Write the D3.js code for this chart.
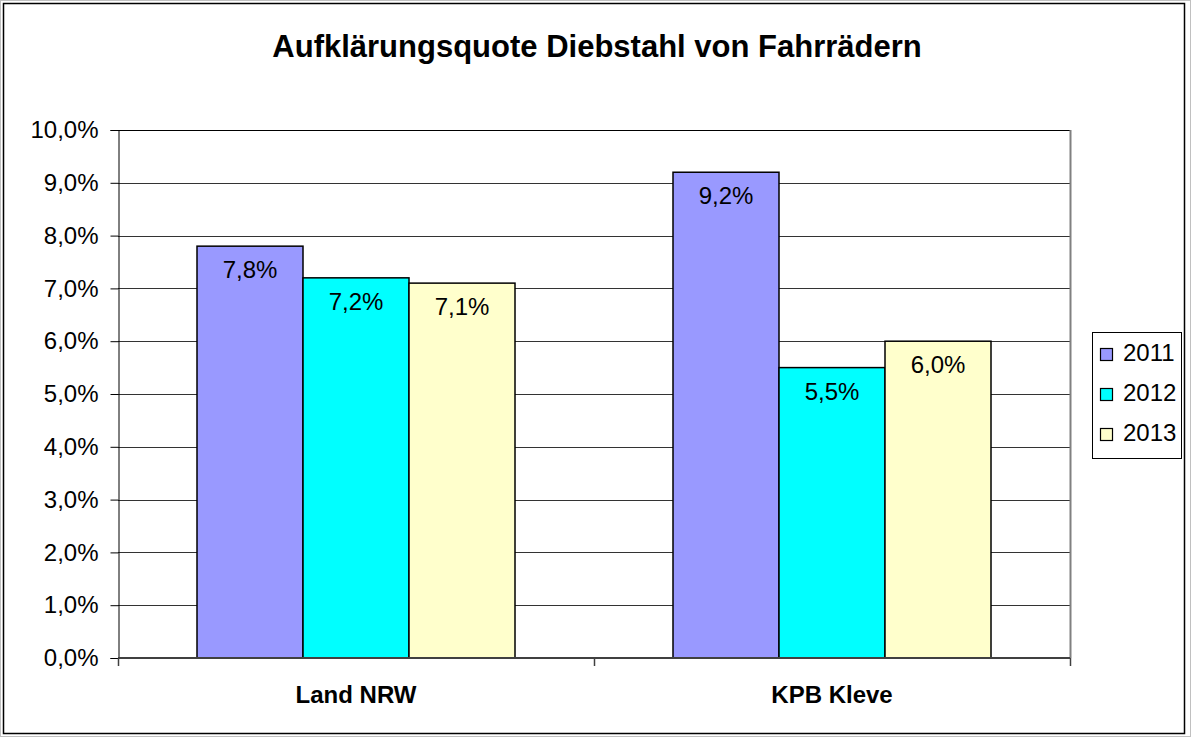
<!DOCTYPE html>
<html>
<head>
<meta charset="utf-8">
<script src="https://cdn.jsdelivr.net/npm/d3@7"></script>
<style>
	body { margin: 0; background: #fff; }
	text { font-family: "Liberation Sans", Arial, sans-serif; fill: #000; }
</style>
</head>
<body>
<script>
var w = 1191, h = 737;

var categories = ["Land NRW", "KPB Kleve"];
var years = ["2011", "2012", "2013"];
var values = [
	[7.8, 7.2, 7.1], // Land NRW
	[9.2, 5.5, 6.0]  // KPB Kleve
];
var yTicks = [0, 1, 2, 3, 4, 5, 6, 7, 8, 9, 10];
var colors = ["#9999ff", "#00ffff", "#ffffcc"];

var fmt = function(v){ return v.toFixed(1).replace(".", ",") + "%"; };

var svg = d3.select("body").append("svg")
	.attr("width", w)
	.attr("height", h);

// outer frame
svg.append("rect")
	.attr("x", 0.5).attr("y", 0.5)
	.attr("width", w - 1).attr("height", h - 1)
	.attr("fill", "none").attr("stroke", "#c0c0c0");
svg.append("rect")
	.attr("x", 3.5).attr("y", 3.5)
	.attr("width", 1181).attr("height", 730)
	.attr("fill", "#fff").attr("stroke", "#000").attr("stroke-width", 1.5);

// title
svg.append("text")
	.attr("x", 597).attr("y", 57)
	.attr("text-anchor", "middle")
	.style("font-size", "31px")
	.style("font-weight", "bold")
	.text("Aufklärungsquote Diebstahl von Fahrrädern");

var pLeft = 118, pRight = 1070, pTop = 130, pBottom = 658;

var y = d3.scaleLinear().domain([0, 10]).range([pBottom, pTop]);
var x0 = d3.scaleBand().domain(categories).range([pLeft, pRight]);
var x1 = d3.scaleBand().domain(years).range([0, 318]);
var groupOffset = (x0.bandwidth() - 318) / 2;

// gridlines
svg.append("g")
	.selectAll("line")
	.data(yTicks.slice(1))
	.enter()
	.append("line")
	.attr("x1", pLeft).attr("x2", pRight)
	.attr("y1", function(d){ return Math.round(y(d)) + 0.5; })
	.attr("y2", function(d){ return Math.round(y(d)) + 0.5; })
	.attr("stroke", function(d){ return d == 10 ? "#000" : "#333"; })
	.attr("stroke-width", 1);

// right border of plot area
svg.append("line")
	.attr("x1", pRight + 0.5).attr("x2", pRight + 0.5)
	.attr("y1", pTop).attr("y2", pBottom)
	.attr("stroke", "#808080").attr("stroke-width", 2);

// y axis
var yAxis = d3.axisLeft(y)
	.tickValues(yTicks)
	.tickSize(8)
	.tickPadding(12)
	.tickFormat(fmt);
var gy = svg.append("g")
	.attr("transform", "translate(" + (pLeft + 0.5) + ",0)")
	.call(yAxis);
gy.select(".domain").attr("stroke", "#000");
gy.selectAll(".tick line").attr("stroke", "#000");
gy.selectAll(".tick text")
	.style("font-size", "24px")
	.style("font-family", "'Liberation Sans', Arial, sans-serif")
	.attr("fill", "#000");

// bars
var groups = svg.append("g")
	.selectAll("g")
	.data(values)
	.enter()
	.append("g")
	.attr("transform", function(d, i){
		return "translate(" + (x0(categories[i]) + groupOffset) + ",0)";
	});

groups.selectAll("rect")
	.data(function(d){ return d; })
	.enter()
	.append("rect")
	.attr("x", function(d, i){ return x1(years[i]); })
	.attr("y", function(d){ return y(d); })
	.attr("width", x1.bandwidth())
	.attr("height", function(d){ return pBottom - y(d); })
	.attr("fill", function(d, i){ return colors[i]; })
	.attr("stroke", "#000")
	.attr("stroke-width", 1.5);

groups.selectAll("text")
	.data(function(d){ return d; })
	.enter()
	.append("text")
	.attr("x", function(d, i){ return x1(years[i]) + x1.bandwidth() / 2; })
	.attr("y", function(d){ return y(d) + 32; })
	.attr("text-anchor", "middle")
	.style("font-size", "24px")
	.text(fmt);

// x axis
var gx = svg.append("g")
	.attr("transform", "translate(0," + pBottom + ")");
gx.append("line")
	.attr("x1", pLeft).attr("x2", pRight)
	.attr("stroke", "#404040").attr("stroke-width", 2);
gx.selectAll("line.tick")
	.data([pLeft, x0(categories[1]), pRight])
	.enter()
	.append("line")
	.attr("class", "tick")
	.attr("x1", function(d){ return d + 0.5; })
	.attr("x2", function(d){ return d + 0.5; })
	.attr("y1", 0).attr("y2", 8)
	.attr("stroke", "#404040").attr("stroke-width", 1.5);
gx.selectAll("text")
	.data(categories)
	.enter()
	.append("text")
	.attr("x", function(d){ return x0(d) + x0.bandwidth() / 2; })
	.attr("y", 45)
	.attr("text-anchor", "middle")
	.style("font-size", "24px")
	.style("font-weight", "bold")
	.text(function(d){ return d; });

// legend
var legend = svg.append("g");
legend.append("rect")
	.attr("x", 1092.5).attr("y", 332.5)
	.attr("width", 89).attr("height", 126)
	.attr("fill", "#fff").attr("stroke", "#000").attr("stroke-width", 1);

var items = legend.selectAll("g")
	.data(years)
	.enter()
	.append("g")
	.attr("transform", function(d, i){ return "translate(0," + (i * 40) + ")"; });
items.append("rect")
	.attr("x", 1100.5).attr("y", 348.5)
	.attr("width", 12).attr("height", 12)
	.attr("fill", function(d, i){ return colors[i]; })
	.attr("stroke", "#000").attr("stroke-width", 1.2);
items.append("text")
	.attr("x", 1123).attr("y", 361)
	.style("font-size", "24px")
	.text(function(d){ return d; });
</script>
</body>
</html>
